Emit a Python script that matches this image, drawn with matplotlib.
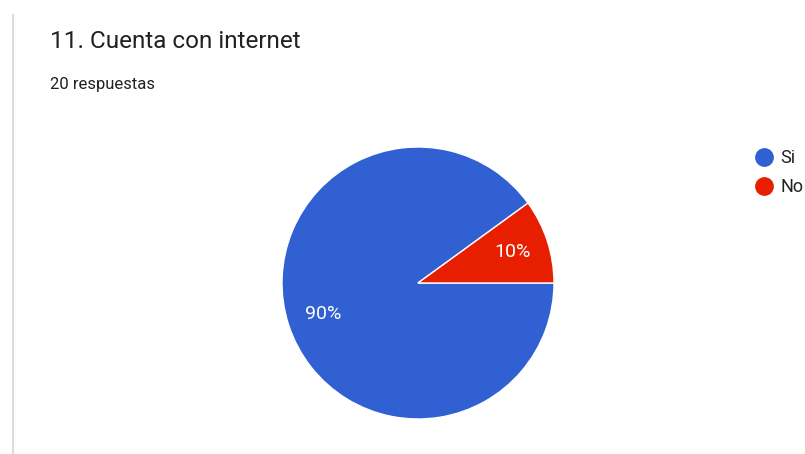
import matplotlib
matplotlib.use("Agg")
import matplotlib.pyplot as plt
from matplotlib.lines import Line2D

title = "11. Cuenta con internet"
subtitle = "20 respuestas"
labels = ["Si", "No"]
values = [18, 2]
colors = ["#3160d3", "#e81e00"]

plt.rcParams["font.family"] = ["Roboto", "DejaVu Sans"]

W, H = 805, 454
fig = plt.figure(figsize=(W / 100, H / 100), dpi=100)

# pie centred at (418, 283) px with radius 136 px
cx, cy, r = 418, 283, 136
ax = fig.add_axes([(cx - r) / W, (H - cy - r) / H, 2 * r / W, 2 * r / H])
wedges, texts, autotexts = ax.pie(
    values, colors=colors, startangle=36, counterclock=True,
    autopct="%1.0f%%", pctdistance=0.73,
    wedgeprops=dict(edgecolor="white", linewidth=1),
    textprops=dict(color="white", fontsize=14),
)
ax.set_xlim(-1, 1)
ax.set_ylim(-1, 1)
ax.set_aspect("equal")

# header
fig.text(50 / W, 1 - 42 / H, title, fontsize=17.5, color="#202124", va="center", ha="left")
fig.text(50 / W, 1 - 84 / H, subtitle, fontsize=12, color="#202124", va="center", ha="left")

# left card border
fig.add_artist(Line2D([13 / W, 13 / W], [0, 1 - 15 / H], color="#dadce0", linewidth=1.5))

# legend
handles = [Line2D([], [], marker="o", linestyle="", markersize=12.5,
                  markerfacecolor=c, markeredgecolor=c) for c in colors]
fig.legend(handles, labels, loc="upper left", bbox_to_anchor=(753 / W, 1 - 149 / H),
           frameon=False, fontsize=13, handletextpad=0.3, labelspacing=0.6,
           handlelength=1.2, borderaxespad=0, borderpad=0, labelcolor="#222222")

fig.savefig("out.png", dpi=100)
